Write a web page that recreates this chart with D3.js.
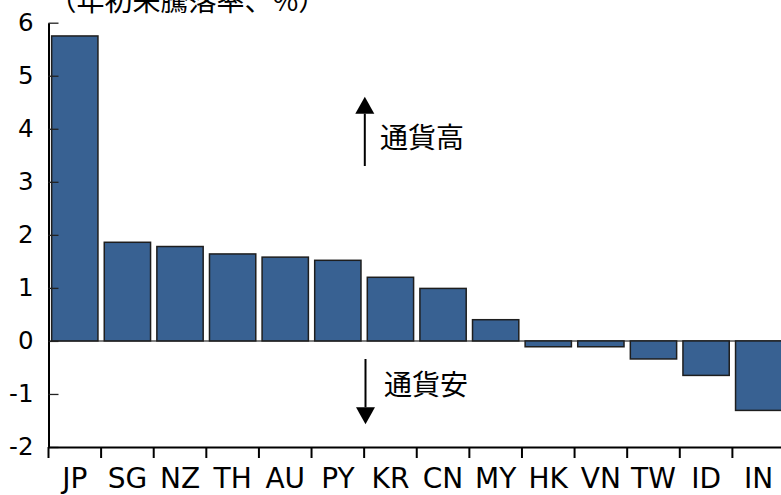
<!DOCTYPE html>
<html>
<head>
<meta charset="utf-8">
<script src="https://cdn.jsdelivr.net/npm/d3@7"></script>
<style>
  html, body { margin: 0; padding: 0; background: #fff; }
  svg { display: block; }
</style>
</head>
<body>
<svg id="chart" width="781" height="495"></svg>
<script>
const categories = ["JP","SG","NZ","TH","AU","PY","KR","CN","MY","HK","VN","TW","ID","IN"];
const values = [5.75, 1.86, 1.78, 1.64, 1.58, 1.52, 1.20, 0.99, 0.40, -0.11, -0.11, -0.34, -0.65, -1.31];
const yTicks = [-2, -1, 0, 1, 2, 3, 4, 5, 6];
const titleText = "（年初来騰落率、%）";
const upLabel = "通貨高";
const downLabel = "通貨安";

const latinFont = "'DejaVu Sans', Verdana, sans-serif";
const cjkFont = "'Noto Sans CJK JP', 'Noto Sans CJK SC', sans-serif";

const svg = d3.select("#chart");
const plotLeft = 48.5, plotRight = 785, plotTop = 22.7, plotBottom = 447;

const x = d3.scaleBand().domain(categories).range([plotLeft, plotRight])
  .paddingInner(0.12).paddingOuter(0.06);
const y = d3.scaleLinear().domain([-2, 6]).range([plotBottom, plotTop]);

// zero line
svg.append("line")
  .attr("x1", plotLeft).attr("x2", 781)
  .attr("y1", y(0)).attr("y2", y(0))
  .attr("stroke", "#808080").attr("stroke-width", 2);

// bars
svg.append("g").selectAll("rect")
  .data(categories.map((c, i) => ({c, v: values[i]})))
  .join("rect")
  .attr("x", d => x(d.c))
  .attr("width", x.bandwidth())
  .attr("y", d => y(Math.max(0, d.v)))
  .attr("height", d => Math.abs(y(d.v) - y(0)))
  .attr("fill", "#386192")
  .attr("stroke", "#1e1e1e")
  .attr("stroke-width", 1.5);

// y axis
const yAxis = svg.append("g")
  .attr("transform", `translate(${plotLeft},0)`)
  .call(d3.axisLeft(y).tickValues(yTicks).tickFormat(d => String(d))
    .tickSize(-10).tickSizeOuter(0).tickPadding(15));
yAxis.select(".domain").attr("stroke", "#000").attr("stroke-width", 2);
yAxis.selectAll(".tick line").attr("stroke", "#222").attr("stroke-width", 1.3);
yAxis.selectAll(".tick text")
  .attr("font-family", latinFont).attr("font-size", 24.5).attr("fill", "#000");

// x axis
const step = x.step();
const boundaries = categories.map(c => x(c) - step * x.paddingInner() / 2)
  .concat([x(categories[categories.length - 1]) + x.bandwidth() + step * x.paddingInner() / 2]);
const xAxis = svg.append("g")
  .attr("transform", `translate(0,${plotBottom})`)
  .call(d3.axisBottom(x).tickSize(0).tickSizeOuter(0).tickPadding(21));
xAxis.select(".domain").attr("stroke", "#000").attr("stroke-width", 2.2);
xAxis.selectAll(".tick text")
  .attr("font-family", latinFont).attr("font-size", 28).attr("fill", "#000")
  .attr("dy", "0.71em");
xAxis.append("g").selectAll("line")
  .data(boundaries)
  .join("line")
  .attr("x1", d => d).attr("x2", d => d)
  .attr("y1", 0).attr("y2", 11)
  .attr("stroke", "#000").attr("stroke-width", 2);

// title
svg.append("text")
  .attr("x", plotLeft).attr("y", 11)
  .attr("font-family", cjkFont).attr("font-size", 28).attr("fill", "#000")
  .text(titleText);

function arrow(x0, y0, y1, headLen, headW) {
  const g = svg.append("g");
  const dir = Math.sign(y1 - y0);
  g.append("line")
    .attr("x1", x0).attr("x2", x0)
    .attr("y1", y0).attr("y2", y1 - dir * headLen)
    .attr("stroke", "#000").attr("stroke-width", 2);
  g.append("path")
    .attr("d", `M${x0 - headW / 2},${y1 - dir * headLen} L${x0 + headW / 2},${y1 - dir * headLen} L${x0},${y1} Z`)
    .attr("fill", "#000");
}
arrow(364.8, 166, 96.7, 17, 19);
arrow(365.5, 359, 424.3, 17, 19);

svg.append("text")
  .attr("x", 380).attr("y", 147.5)
  .attr("font-family", cjkFont).attr("font-size", 28).attr("fill", "#000")
  .text(upLabel);
svg.append("text")
  .attr("x", 384).attr("y", 395)
  .attr("font-family", cjkFont).attr("font-size", 28).attr("fill", "#000")
  .text(downLabel);
</script>
</body>
</html>
